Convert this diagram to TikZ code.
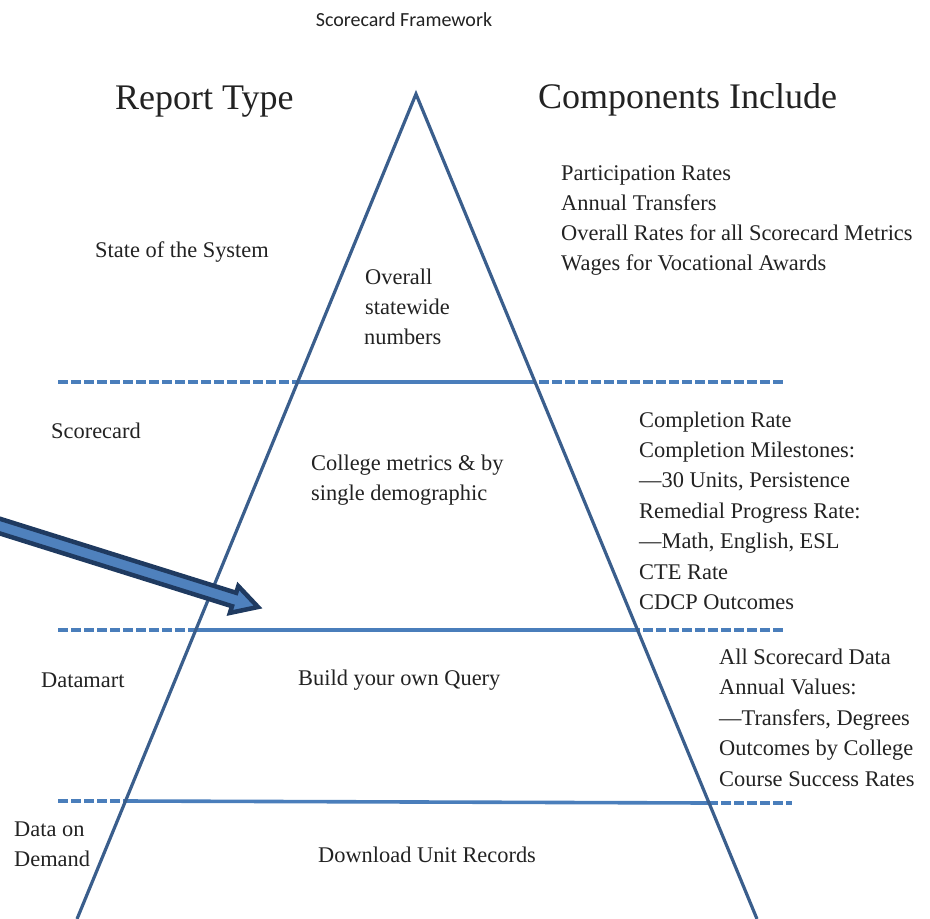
\documentclass[tikz,border=0pt]{standalone}
\usepackage{fontspec}
\setmainfont{Liberation Serif}
\newfontfamily\titlefont{Carlito}
\definecolor{edgeblue}{HTML}{3A5E8C}
\definecolor{hblue}{HTML}{4A7EBB}
\definecolor{arrfill}{HTML}{4F81BD}
\definecolor{arrdark}{HTML}{1F3A60}
\definecolor{txtcol}{HTML}{222222}
\begin{document}
\begin{tikzpicture}[x=1pt,y=-1pt,
  txt/.style={inner sep=0pt, anchor=base west, text=txtcol, font=\fontsize{22.4}{27}\selectfont},
  head/.style={inner sep=0pt, anchor=base west, text=txtcol, font=\fontsize{36}{40}\selectfont},
  edge/.style={draw=edgeblue, line width=3.2pt},
  hsolid/.style={draw=hblue, line width=3.6pt},
  hdash/.style={draw=hblue, line width=3.6pt, dash pattern=on 10pt off 3pt},
  blockarrow/.style={draw=arrdark, fill=arrfill, line width=4.5pt, line join=miter}]
\useasboundingbox (0,0) rectangle (930,919);

% title
\node[inner sep=0pt, anchor=base, text=txtcol, font=\titlefont\fontsize{20}{24}\selectfont] (title) at (404,26) {Scorecard Framework};

% headings
\node[head] (rt) at (115,109) {Report Type};
\node[head] (ci) at (538,108) {Components Include};

% pyramid
\coordinate (apex) at (416,94);
\coordinate (bl) at (77,919);
\coordinate (br) at (757,919);

% dashed separators
\coordinate (d1l) at (58,382);  \coordinate (d1r) at (786,382);
\coordinate (d2l) at (58,630);  \coordinate (d2r) at (784,630);
\coordinate (d3l) at (58,801);  \coordinate (d3r) at (792,803);
\coordinate (s1l) at (298,382); \coordinate (s1r) at (535,382);
\coordinate (s2l) at (196,630); \coordinate (s2r) at (637,630);
\coordinate (s3l) at (126,801); \coordinate (s3r) at (708,803);

\draw[hdash] (d1l) -- (d1r);
\draw[hdash] (d2l) -- (d2r);
\draw[hdash] (d3l) -- (s3l);
\draw[hdash] (s3r) -- (d3r);
\draw[hsolid] (s1l) -- (s1r);
\draw[hsolid] (s2l) -- (s2r);
\draw[hsolid] (s3l) -- (s3r);

\draw[edge] (bl) -- (apex) -- (br);

% block arrow
\coordinate (a1) at (-7.9,516.3);
\coordinate (a2) at (236.2,592.8);
\coordinate (a3) at (238.3,586.1);
\coordinate (tip) at (258,607);
\coordinate (a5) at (229.9,612.9);
\coordinate (a6) at (232.0,606.2);
\coordinate (a7) at (-12.1,529.7);
\draw[blockarrow] (a1) -- (a2) -- (a3) -- (tip) -- (a5) -- (a6) -- (a7) -- cycle;

% left column
\node[txt] (sos) at (95,257) {State of the System};
\node[txt] (sc) at (51,438) {Scorecard};
\node[txt] (dm) at (41,687) {Datamart};
\node[txt] (dod1) at (14,836) {Data on};
\node[txt] (dod2) at (14,866) {Demand};

% inside pyramid
\node[txt] (in1a) at (365,284) {Overall};
\node[txt] (in1b) at (365,314) {statewide};
\node[txt] (in1c) at (364,344) {numbers};
\node[txt] (in2a) at (311,470) {College metrics \& by};
\node[txt] (in2b) at (311,500) {single demographic};
\node[txt] (in3) at (298,685) {Build your own Query};
\node[txt] (in4) at (318,862) {Download Unit Records};

% right column
\foreach \t [count=\i] in {Participation Rates, Annual Transfers, Overall Rates for all Scorecard Metrics, Wages for Vocational Awards}
  \node[txt] (ra\i) at (561,150+30.2*\i) {\t};
\foreach \t [count=\i] in {Completion Rate, {Completion Milestones:}, {—30 Units, Persistence}, {Remedial Progress Rate:}, {—Math, English, ESL}, CTE Rate, CDCP Outcomes}
  \node[txt] (rb\i) at (639,396.6+30.4*\i) {\t};
\foreach \t [count=\i] in {All Scorecard Data, {Annual Values:}, {—Transfers, Degrees}, Outcomes by College, Course Success Rates}
  \node[txt] (rc\i) at (719,633.5+30.5*\i) {\t};
\end{tikzpicture}
\end{document}
